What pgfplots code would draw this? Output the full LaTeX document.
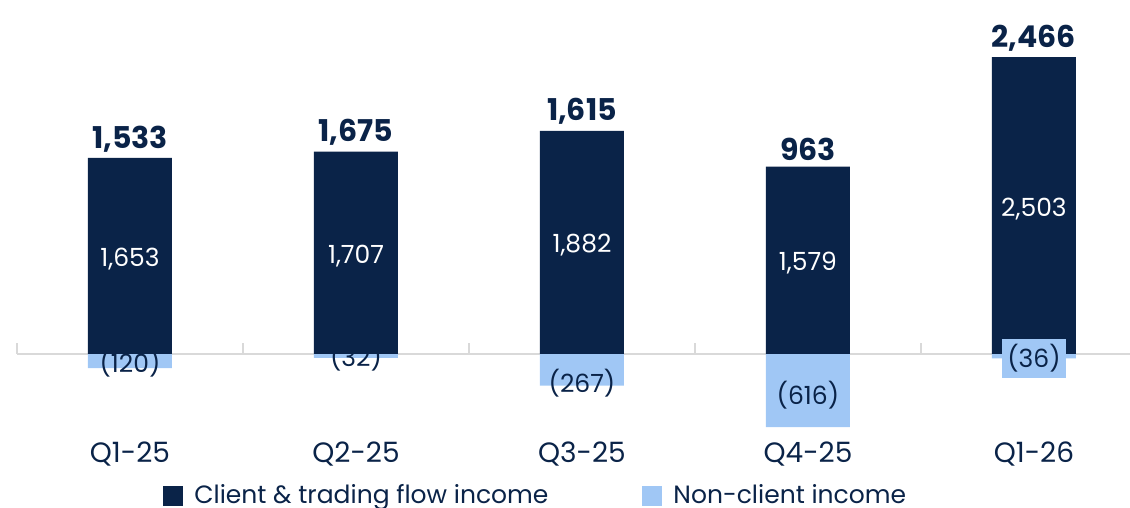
\documentclass[border=0pt]{standalone}
\usepackage{pgfplots}
\pgfplotsset{compat=1.18}
\usepackage{fontspec}
\setmainfont{Poppins}
\definecolor{navy}{RGB}{10,35,72}
\definecolor{lightblue}{RGB}{160,199,245}
\definecolor{zline}{RGB}{217,217,217}
\begin{document}
\begin{tikzpicture}
\path[use as bounding box] (-8.5pt,-35.5pt) rectangle (556.5pt,218.5pt);
\begin{axis}[
  at={(0pt,0pt)}, anchor=south west,
  scale only axis, width=556.5pt, height=218.5pt,
  xmin=-0.5, xmax=4.425, ymin=-700, ymax=2985,
  axis line style={draw=none},
  ytick=\empty,
  xtick={0,1,2,3,4}, xticklabels={Q1-25,Q2-25,Q3-25,Q4-25,Q1-26},
  major tick length=0pt,
  xticklabel style={font=\fontsize{14}{16}\selectfont, text=navy, anchor=north, inner sep=0pt, yshift=-2pt},
  clip=false,
  legend columns=2,
  legend style={draw=none, fill=none, at={(0.467,-0.134)}, anchor=center,
    font=\fontsize{12.5}{14}\selectfont, text=navy,
    /tikz/every odd column/.append style={column sep=3.5pt},
    /tikz/every even column/.append style={column sep=45pt}},
  legend image code/.code={\fill[#1] (0pt,-5pt) rectangle (10pt,5pt);},
]
% zero line and category separators
\draw[zline, line width=1pt] (axis cs:-0.5,0) -- (axis cs:4.425,0);
\draw[zline, line width=1pt] (axis cs:-0.5,0) -- (axis cs:-0.5,93);
\draw[zline, line width=1pt] (axis cs:0.5,0) -- (axis cs:0.5,93);
\draw[zline, line width=1pt] (axis cs:1.5,0) -- (axis cs:1.5,93);
\draw[zline, line width=1pt] (axis cs:2.5,0) -- (axis cs:2.5,93);
\draw[zline, line width=1pt] (axis cs:3.5,0) -- (axis cs:3.5,93);

% Non-client income bars
\addplot[forget plot, ybar, bar width=42pt, bar shift=0pt, fill=lightblue, draw=none]
  table {
x y
0 -120
1 -32
2 -267
3 -616
4 -36
};
% Non-client labels (Q1-25 .. Q4-25)
\addplot[forget plot, draw=none, mark=none, nodes near coords, point meta=explicit symbolic,
  every node near coord/.append style={anchor=center, text=navy, font=\fontsize{12.5}{14}\selectfont}]
  table[meta=t] {
x y t
0 -80 (120)
1 -27 (32)
2 -250 (267)
3 -345 (616)
};
% Client & trading flow income bars, with totals on top
\addplot[forget plot, ybar, bar width=42pt, bar shift=0pt, fill=navy, draw=none,
  nodes near coords, point meta=explicit symbolic,
  every node near coord/.append style={anchor=south, yshift=-0.5pt, text=navy, font=\bfseries\fontsize{15}{17}\selectfont}]
  table[meta=t] {
x y t
0 1653 1,533
1 1707 1,675
2 1882 1,615
3 1579 963
4 2503 2,466
};
% Client labels inside bars
\addplot[forget plot, draw=none, mark=none, nodes near coords, point meta=explicit symbolic,
  every node near coord/.append style={anchor=center, yshift=-1.5pt, text=white, font=\fontsize{12.5}{14}\selectfont}]
  table[meta=t] {
x y t
0 826 1,653
1 853 1,707
2 941 1,882
3 790 1,579
4 1251 2,503
};
% Q1-26 non-client label in a filled box
\addplot[forget plot, draw=none, mark=none, nodes near coords, point meta=explicit symbolic,
  every node near coord/.append style={anchor=center, text=navy, fill=lightblue, minimum width=32pt, minimum height=19.5pt, inner sep=0pt, font=\fontsize{12.5}{14}\selectfont}]
  table[meta=t] {
x y t
4 -34 (36)
};
\addlegendimage{fill=navy, draw=none}
\addlegendentry{Client \& trading flow income}
\addlegendimage{fill=lightblue, draw=none}
\addlegendentry{Non-client income}
\end{axis}
\end{tikzpicture}
\end{document}
